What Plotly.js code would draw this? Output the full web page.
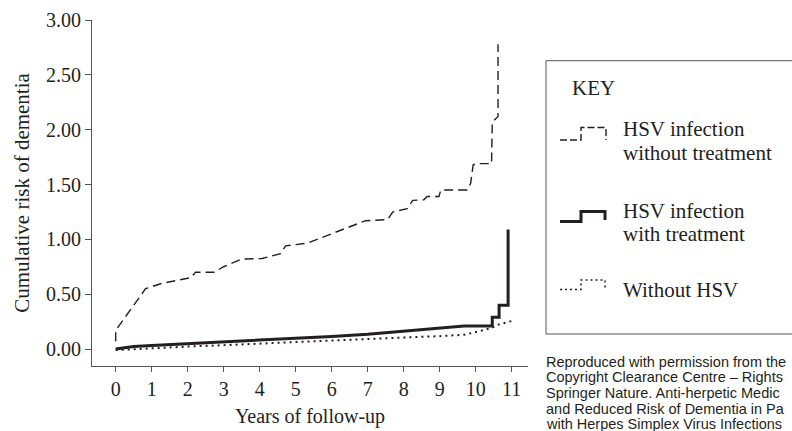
<!DOCTYPE html>
<html>
<head>
<meta charset="utf-8">
<script src="https://cdn.plot.ly/plotly-3.0.1.min.js"></script>
<style>html,body{margin:0;padding:0;background:#fff;}#chart{width:792px;height:431px;}</style>
</head>
<body>
<div id="chart"></div>
<script>
// ---- Data ----
const noTreatX = [0, 0, 0.83, 1.3, 2.08, 2.22, 2.73, 3.0, 3.5, 4.07, 4.58, 4.72, 5.32, 6.25, 6.94, 7.55, 7.7, 8.1, 8.25, 8.56, 8.65, 8.98, 9.03, 9.76, 9.86, 9.93, 10.04, 10.44, 10.46, 10.62, 10.62];
const noTreatY = [0.07, 0.17, 0.55, 0.60, 0.65, 0.70, 0.70, 0.75, 0.82, 0.825, 0.87, 0.94, 0.965, 1.08, 1.17, 1.18, 1.25, 1.28, 1.355, 1.36, 1.39, 1.39, 1.45, 1.45, 1.51, 1.68, 1.69, 1.69, 2.07, 2.12, 2.78];

const treatX = [0, 0.5, 1, 2, 3, 4, 5, 6, 7, 8, 9, 9.68, 10.46, 10.46, 10.65, 10.65, 10.9, 10.9];
const treatY = [0, 0.022, 0.032, 0.048, 0.063, 0.08, 0.098, 0.115, 0.135, 0.165, 0.195, 0.21, 0.21, 0.29, 0.29, 0.40, 0.40, 1.09];

const noHsvX = [0, 1, 2, 3, 4, 5, 6, 7, 8, 9, 9.68, 10.14, 10.46, 10.65, 11.0];
const noHsvY = [-0.01, 0.008, 0.022, 0.035, 0.05, 0.065, 0.08, 0.093, 0.105, 0.117, 0.13, 0.165, 0.195, 0.225, 0.255];

const xTickVals = [0,1,2,3,4,5,6,7,8,9,10,11];
const yTickVals = [0, 0.5, 1, 1.5, 2, 2.5, 3];
const yTickText = ['0.00','0.50','1.00','1.50','2.00','2.50','3.00'];

const seriesNames = ['HSV infection without treatment', 'HSV infection with treatment', 'Without HSV'];
const keyLabels = [['HSV infection','without treatment'], ['HSV infection','with treatment'], ['Without HSV']];
// credit text as visible in the reference (it runs off the right edge there)
const creditLines = [
  'Reproduced with permission from the',
  'Copyright Clearance Centre \u2013 Rights',
  'Springer Nature. Anti-herpetic Medic',
  'and Reduced Risk of Dementia in Pa',
  'with Herpes Simplex Virus Infections'
];

// ---- Layout helpers (pixel -> paper) ----
const M = {l: 92, r: 264, t: 20, b: 65};
const W = 792, H = 431;
const PW = W - M.l - M.r, PH = H - M.t - M.b;
const px = v => (v - M.l) / PW;
const py = v => (H - M.b - v) / PH;

const SERIF = '"Liberation Serif", "Times New Roman", serif';
const SANS = '"Liberation Sans", Arial, sans-serif';
const INK = '#231f20';
const AXIS = '#555555';

const traces = [
  {x: noTreatX, y: noTreatY, name: seriesNames[0], mode: 'lines', line: {color: INK, width: 1.4, dash: '9px,5px'}},
  {x: treatX, y: treatY, name: seriesNames[1], mode: 'lines', line: {color: INK, width: 3}},
  {x: noHsvX, y: noHsvY, name: seriesNames[2], mode: 'lines', line: {color: INK, width: 2, dash: '2px,4px'}}
];

function pathOf(pts) {
  return pts.map((p, i) => (i ? 'L' : 'M') + px(p[0]).toFixed(5) + ',' + py(p[1]).toFixed(5)).join(' ');
}

const shapes = [
  {type: 'rect', xref: 'paper', yref: 'paper', x0: px(546), x1: px(830), y0: py(334), y1: py(60.7),
   line: {color: '#555555', width: 1}, fillcolor: 'rgba(0,0,0,0)'},
  {type: 'path', xref: 'paper', yref: 'paper', path: pathOf([[560,140],[581,140],[581,127.5],[606,127.5],[606,140]]),
   line: {color: INK, width: 1.4, dash: '7px,3px'}},
  {type: 'path', xref: 'paper', yref: 'paper', path: pathOf([[560,221.5],[581,221.5],[581,211.5],[605,211.5],[605,220]]),
   line: {color: INK, width: 3}},
  {type: 'path', xref: 'paper', yref: 'paper', path: pathOf([[560,289.5],[581,289.5],[581,280],[605,280],[605,290]]),
   line: {color: INK, width: 1.5, dash: '2px,3px'}}
];

const annotations = [];
function addText(text, x, y, size, family) {
  annotations.push({text: text, xref: 'paper', yref: 'paper', x: px(x), y: py(y), xanchor: 'left', yanchor: 'middle',
    showarrow: false, borderpad: 0, font: {family: family, size: size, color: INK}});
}
addText('KEY', 571, 88, 21, SERIF);
addText(keyLabels[0][0], 622, 129, 21, SERIF);
addText(keyLabels[0][1], 622, 152.5, 21, SERIF);
addText(keyLabels[1][0], 622, 210.5, 21, SERIF);
addText(keyLabels[1][1], 622, 234, 21, SERIF);
addText(keyLabels[2][0], 622, 289.5, 21, SERIF);
const creditY = [362, 377.5, 393, 408.5, 424];
creditLines.forEach((t, i) => addText(t, 545, creditY[i], 14.5, SANS));

const layout = {
  width: W, height: H,
  margin: M,
  paper_bgcolor: '#fff', plot_bgcolor: '#fff',
  showlegend: false,
  font: {family: SERIF, color: INK, size: 20},
  xaxis: {
    range: [(M.l - 115.7) / 36, (W - M.r - 115.7) / 36],
    tickvals: xTickVals, ticks: 'outside', ticklen: 5, tickcolor: AXIS, tickwidth: 1,
    showline: true, linecolor: AXIS, linewidth: 1, showgrid: false, zeroline: false,
    tickfont: {family: SERIF, size: 20, color: INK},
    title: {text: 'Years of follow-up', font: {family: SERIF, size: 20, color: INK}, standoff: 9},
    automargin: false, fixedrange: true
  },
  yaxis: {
    range: [-(366 - 349) / 109.67, 3.0],
    tickvals: yTickVals, ticktext: yTickText, ticks: 'outside', ticklen: 6, tickcolor: AXIS, tickwidth: 1,
    showline: true, linecolor: AXIS, linewidth: 1, showgrid: false, zeroline: false,
    tickfont: {family: SERIF, size: 20, color: INK},
    title: {text: 'Cumulative risk of dementia', font: {family: SERIF, size: 21, color: INK}, standoff: 10},
    automargin: false, fixedrange: true
  },
  shapes: shapes,
  annotations: annotations
};

Plotly.newPlot('chart', traces, layout, {staticPlot: true, displayModeBar: false});
</script>
</body>
</html>
